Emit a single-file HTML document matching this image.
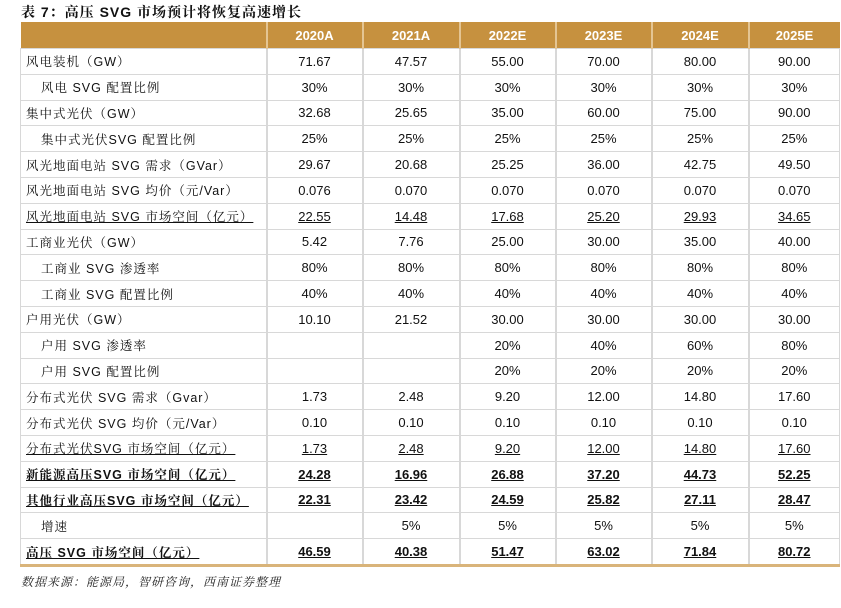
<!DOCTYPE html>
<html><head><meta charset="utf-8">
<style>
body{margin:0;width:841px;height:608px;background:#fff;position:relative;overflow:hidden;font-family:"Liberation Sans","Noto Sans CJK SC",sans-serif;color:#111}
#title{position:absolute;left:21px;top:2px;font-size:14px;font-weight:bold;letter-spacing:1px;font-family:"Liberation Sans","Noto Serif CJK SC",serif}
table{position:absolute;left:20px;top:22px;border-collapse:collapse;table-layout:fixed;width:819px}
th{background:#c6913f;color:#fff;height:26px;font-size:13px;font-weight:bold;border-left:2px solid #e4c593;padding:0;text-align:center}
th:first-child{border-left:none}
td{height:24.8px;font-size:13px;border:1px solid #d8d8d8;border-left:2px solid #d8d8d8;padding:0;text-align:center}
td:first-child{text-align:left;padding-left:5px;border-left:1px solid #d8d8d8;font-family:"Liberation Sans","Noto Serif CJK SC",serif;font-size:12.5px;letter-spacing:1px}
tr.i td:first-child{padding-left:20px}
tr.u td span{text-decoration:underline}
tr.b td{font-weight:bold}
tr.last td{border-bottom:3px solid #d9b47a}
#src{position:absolute;left:21px;top:573px;font-size:12px;font-style:italic;letter-spacing:1px;font-family:"Liberation Serif","Noto Serif CJK SC",serif;color:#222}
</style></head><body>
<div id="title">表 7：高压 SVG 市场预计将恢复高速增长</div>
<table>
<colgroup><col style="width:246px"><col style="width:96px"><col style="width:97px"><col style="width:96px"><col style="width:96px"><col style="width:97px"><col style="width:91px"></colgroup>
<tr><th></th><th>2020A</th><th>2021A</th><th>2022E</th><th>2023E</th><th>2024E</th><th>2025E</th></tr>
<tr><td>风电装机（GW）</td><td>71.67</td><td>47.57</td><td>55.00</td><td>70.00</td><td>80.00</td><td>90.00</td></tr>
<tr class="i"><td>风电 SVG 配置比例</td><td>30%</td><td>30%</td><td>30%</td><td>30%</td><td>30%</td><td>30%</td></tr>
<tr><td>集中式光伏（GW）</td><td>32.68</td><td>25.65</td><td>35.00</td><td>60.00</td><td>75.00</td><td>90.00</td></tr>
<tr class="i"><td>集中式光伏SVG 配置比例</td><td>25%</td><td>25%</td><td>25%</td><td>25%</td><td>25%</td><td>25%</td></tr>
<tr><td>风光地面电站 SVG 需求（GVar）</td><td>29.67</td><td>20.68</td><td>25.25</td><td>36.00</td><td>42.75</td><td>49.50</td></tr>
<tr><td>风光地面电站 SVG 均价（元/Var）</td><td>0.076</td><td>0.070</td><td>0.070</td><td>0.070</td><td>0.070</td><td>0.070</td></tr>
<tr class="u"><td><span>风光地面电站 SVG 市场空间（亿元）</span></td><td><span>22.55</span></td><td><span>14.48</span></td><td><span>17.68</span></td><td><span>25.20</span></td><td><span>29.93</span></td><td><span>34.65</span></td></tr>
<tr><td>工商业光伏（GW）</td><td>5.42</td><td>7.76</td><td>25.00</td><td>30.00</td><td>35.00</td><td>40.00</td></tr>
<tr class="i"><td>工商业 SVG 渗透率</td><td>80%</td><td>80%</td><td>80%</td><td>80%</td><td>80%</td><td>80%</td></tr>
<tr class="i"><td>工商业 SVG 配置比例</td><td>40%</td><td>40%</td><td>40%</td><td>40%</td><td>40%</td><td>40%</td></tr>
<tr><td>户用光伏（GW）</td><td>10.10</td><td>21.52</td><td>30.00</td><td>30.00</td><td>30.00</td><td>30.00</td></tr>
<tr class="i"><td>户用 SVG 渗透率</td><td></td><td></td><td>20%</td><td>40%</td><td>60%</td><td>80%</td></tr>
<tr class="i"><td>户用 SVG 配置比例</td><td></td><td></td><td>20%</td><td>20%</td><td>20%</td><td>20%</td></tr>
<tr><td>分布式光伏 SVG 需求（Gvar）</td><td>1.73</td><td>2.48</td><td>9.20</td><td>12.00</td><td>14.80</td><td>17.60</td></tr>
<tr><td>分布式光伏 SVG 均价（元/Var）</td><td>0.10</td><td>0.10</td><td>0.10</td><td>0.10</td><td>0.10</td><td>0.10</td></tr>
<tr class="u"><td><span>分布式光伏SVG 市场空间（亿元）</span></td><td><span>1.73</span></td><td><span>2.48</span></td><td><span>9.20</span></td><td><span>12.00</span></td><td><span>14.80</span></td><td><span>17.60</span></td></tr>
<tr class="u b"><td><span>新能源高压SVG 市场空间（亿元）</span></td><td><span>24.28</span></td><td><span>16.96</span></td><td><span>26.88</span></td><td><span>37.20</span></td><td><span>44.73</span></td><td><span>52.25</span></td></tr>
<tr class="u b"><td><span>其他行业高压SVG 市场空间（亿元）</span></td><td><span>22.31</span></td><td><span>23.42</span></td><td><span>24.59</span></td><td><span>25.82</span></td><td><span>27.11</span></td><td><span>28.47</span></td></tr>
<tr class="i"><td>增速</td><td></td><td>5%</td><td>5%</td><td>5%</td><td>5%</td><td>5%</td></tr>
<tr class="u b last"><td><span>高压 SVG 市场空间（亿元）</span></td><td><span>46.59</span></td><td><span>40.38</span></td><td><span>51.47</span></td><td><span>63.02</span></td><td><span>71.84</span></td><td><span>80.72</span></td></tr>
</table>
<div id="src">数据来源：能源局，智研咨询，西南证券整理</div>
</body></html>
